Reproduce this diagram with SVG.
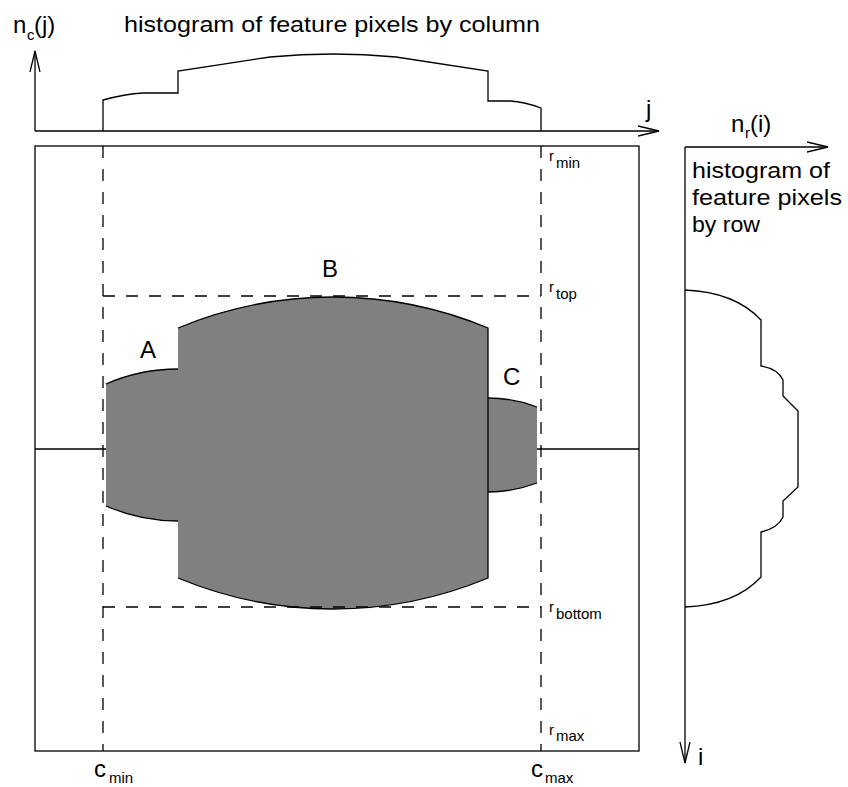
<svg xmlns="http://www.w3.org/2000/svg" width="848" height="787" viewBox="0 0 848 787">
<style>
  text { font-family: "Liberation Sans", Arial, sans-serif; fill: #000; }
  .big { font-size: 24px; }
  .lbl { font-size: 22px; }
  .sub { font-size: 15px; }
  .line { fill: none; stroke: #000; stroke-width: 1.3; }
  .dash { fill: none; stroke: #000; stroke-width: 1.3; stroke-dasharray: 12 11; }
  .fill { fill: #808080; stroke: none; }
</style>
<defs>
  <marker id="arr" viewBox="0 0 22 12" refX="21" refY="6" markerWidth="22" markerHeight="12" markerUnits="userSpaceOnUse" orient="auto">
    <path d="M0,1 L21,6 L0,11" fill="none" stroke="#000" stroke-width="1.3"/>
  </marker>
</defs>
<rect width="848" height="787" fill="#fff"/>

<g id="column-histogram">
  <path class="line" d="M35,131 L659,131" marker-end="url(#arr)"/>
  <path class="line" d="M35,131 L35,51" marker-end="url(#arr)"/>
  <path class="line" d="M103,131 L103,100 Q125,94 143,93 L178,93 L178,71 L270,57 Q333,51 396,57 L488,71 L488,101 L510,101 Q525,102 541,108 L541,131"/>
  <text class="big" x="13" y="33">n</text>
  <text class="sub" x="27" y="40">c</text>
  <text class="big" x="34" y="33">(j)</text>
  <text class="lbl" x="124" y="32" textLength="416" lengthAdjust="spacingAndGlyphs">histogram of feature pixels by column</text>
  <text class="big" x="646" y="117">j</text>
</g>

<g id="image-frame">
  <rect class="line" x="35" y="146" width="604" height="605"/>
  <path class="line" d="M35,449 L106,449 M537,449 L639,449"/>
</g>

<g id="regions">
  <g id="region-A">
    <path class="fill" d="M106,384 A180,180 0 0 1 178,369 L178,521 A180,180 0 0 1 106,506 Z"/>
    <path class="line" d="M106,384 A180,180 0 0 1 178,369 M178,521 A180,180 0 0 1 106,506"/>
    <text class="big" x="140" y="358">A</text>
  </g>
  <g id="region-C">
    <path class="fill" d="M488,398 A138,138 0 0 1 537,407 L537,483 A138,138 0 0 1 488,492 Z"/>
    <path class="line" d="M488,398 A138,138 0 0 1 537,407 M537,483 A138,138 0 0 1 488,492"/>
    <text class="big" x="503" y="385">C</text>
  </g>
  <g id="region-B">
    <path class="fill" d="M178,328 A403,403 0 0 1 488,328 L488,578 A403,403 0 0 1 178,578 Z"/>
    <path class="line" d="M178,328 A403,403 0 0 1 488,328 L488,578 A403,403 0 0 1 178,578"/>
    <text class="big" x="322" y="277">B</text>
  </g>
</g>

<g id="bounds">
  <path class="dash" d="M103,146 L103,751 M541,146 L541,751"/>
  <path class="dash" d="M103,296 L541,296 M103,607 L541,607"/>
  <text class="sub" x="549" y="161">r</text><text class="sub" x="556" y="168">min</text>
  <text class="sub" x="549" y="292">r</text><text class="sub" x="556" y="299">top</text>
  <text class="sub" x="549" y="612">r</text><text class="sub" x="556" y="619">bottom</text>
  <text class="sub" x="549" y="735">r</text><text class="sub" x="556" y="741">max</text>
  <text class="big" x="94" y="777">c</text><text class="sub" x="109" y="783">min</text>
  <text class="big" x="531" y="777">c</text><text class="sub" x="545" y="783">max</text>
</g>

<g id="row-histogram">
  <path class="line" d="M685,147 L828,147" marker-end="url(#arr)"/>
  <path class="line" d="M685,147 L685,763" marker-end="url(#arr)" stroke="#333" stroke-width="1.8"/>
  <path class="line" d="M685,290 Q735,292 761,320 L761,366 Q778,369 783,380 L783,396 L798,411 L798,487 L783,501 L783,517 Q778,528 761,532 L761,577 Q735,605 685,607"/>
  <text class="big" x="731" y="132">n</text>
  <text class="sub" x="745" y="138">r</text>
  <text class="big" x="750" y="132">(i)</text>
  <text class="lbl" x="692" y="178" textLength="138" lengthAdjust="spacingAndGlyphs">histogram of</text>
  <text class="lbl" x="692" y="205" textLength="150" lengthAdjust="spacingAndGlyphs">feature pixels</text>
  <text class="lbl" x="692" y="232" textLength="68" lengthAdjust="spacingAndGlyphs">by row</text>
  <text class="big" x="698" y="765">i</text>
</g>
</svg>
